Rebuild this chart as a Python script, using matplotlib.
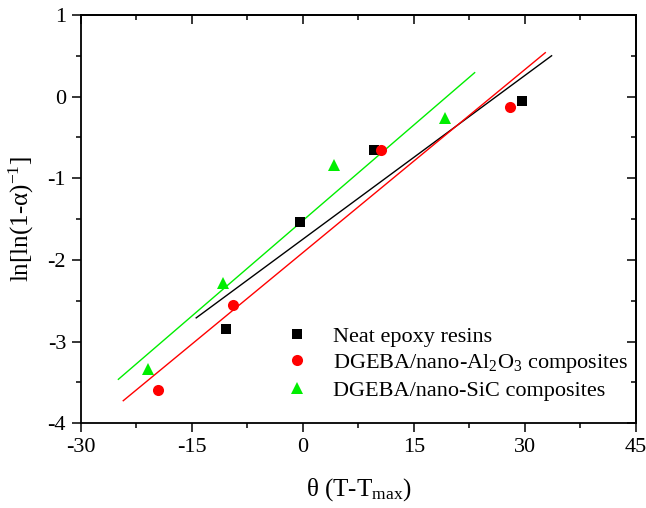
import numpy as np
import matplotlib
matplotlib.use("Agg")
import matplotlib.pyplot as plt

plt.rcParams['font.family'] = ['Liberation Serif', 'DejaVu Serif']
plt.rcParams['mathtext.fontset'] = 'custom'
plt.rcParams['mathtext.rm'] = 'Liberation Serif'
plt.rcParams['mathtext.it'] = 'Liberation Serif:italic'
plt.rcParams['mathtext.default'] = 'regular'

# Data
neat_x = [-10.4, -0.4, 9.6, 29.6]
neat_y = [-2.845, -1.538, -0.649, -0.053]
al_x = [-19.5, -9.4, 10.5, 28.0]
al_y = [-3.59, -2.55, -0.657, -0.126]
sic_x = [-20.9, -10.8, 4.2, 19.2]
sic_y = [-3.34, -2.28, -0.837, -0.26]

labels = ["Neat epoxy resins",
          "DGEBA/nano-Al$_2$O$_3$ composites",
          "DGEBA/nano-SiC composites"]
colors = ["black", "#ff0000", "#00ee00"]
markers = ["s", "o", "^"]
msizes = [7, 8, 9]

fig = plt.figure(figsize=(6.46, 5.08), dpi=100)
ax = fig.add_axes([0.1249, 0.1667, 0.9845 - 0.1249, 0.9705 - 0.1667])

series = [(neat_x, neat_y), (al_x, al_y), (sic_x, sic_y)]
for (xs, ys), c, m, ms, lab in zip(series, colors, markers, msizes, labels):
    xs = np.asarray(xs); ys = np.asarray(ys)
    k, b = np.polyfit(xs, ys, 1)
    ext = 0.1 * (xs.max() - xs.min())
    xl = np.array([xs.min() - ext, xs.max() + ext])
    ax.plot(xl, k * xl + b, color=c, lw=1.0, zorder=2)
    ax.plot(xs, ys, linestyle='none', marker=m, ms=ms, color=c,
            markeredgewidth=0, label=lab, zorder=3)

ax.set_xlim(-30, 45)
ax.set_ylim(-4, 1)
ax.set_xticks([-30, -15, 0, 15, 30, 45])
ax.set_xticks(np.arange(-30, 46, 7.5), minor=True)
ax.set_yticks([-4, -3, -2, -1, 0, 1])
ax.set_yticks(np.arange(-4, 1.01, 0.5), minor=True)
ax.set_xticklabels(["-30", "-15", "0", "15", "30", "45"])
ax.set_yticklabels(["-4", "-3", "-2", "-1", "0", "1"])
ax.tick_params(which='major', direction='out', length=6.5, width=1.1,
               labelsize=16, pad=4)
ax.tick_params(which='minor', direction='out', length=3.5, width=1.1)
for s in ax.spines.values():
    s.set_linewidth(1.3)

# top/right inward ticks
secx = ax.secondary_xaxis('top')
secx.set_xticks([-30, -15, 0, 15, 30, 45])
secx.set_xticks(np.arange(-30, 46, 7.5), minor=True)
secx.tick_params(which='major', direction='in', length=6.5, width=1.1, labeltop=False)
secx.tick_params(which='minor', direction='in', length=3.5, width=1.1)
secx.spines['top'].set_linewidth(1.3)
secy = ax.secondary_yaxis('right')
secy.set_yticks([-4, -3, -2, -1, 0, 1])
secy.set_yticks(np.arange(-4, 1.01, 0.5), minor=True)
secy.tick_params(which='major', direction='in', length=6.5, width=1.1, labelright=False)
secy.tick_params(which='minor', direction='in', length=3.5, width=1.1)
secy.spines['right'].set_linewidth(1.3)

ax.set_xlabel(r"θ (T-T$_{max}$)", fontsize=18, labelpad=14)
ax.set_ylabel(r"ln[ln(1-α)$^{-1}$]", fontsize=18, labelpad=8)

ax.legend(loc='upper left', bbox_to_anchor=(0.3697, 0.2384), frameon=False,
          fontsize=16, handlelength=1.0, handletextpad=1.1, numpoints=1,
          labelspacing=0.24, borderaxespad=0, borderpad=0)

fig.savefig("out.png", dpi=100)
